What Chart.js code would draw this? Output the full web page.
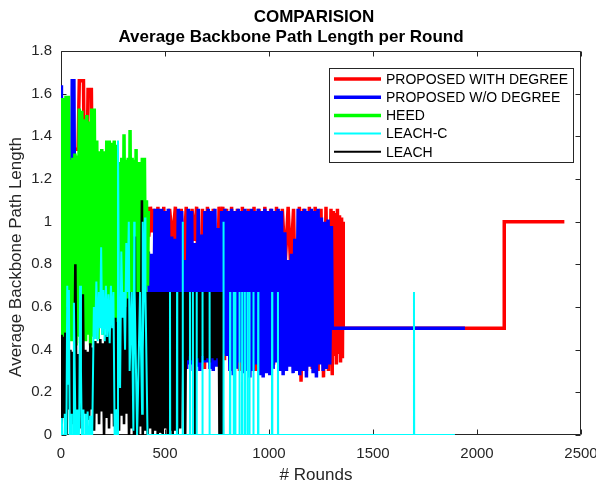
<!DOCTYPE html>
<html>
<head>
<meta charset="utf-8">
<script src="https://cdn.jsdelivr.net/npm/chart.js@4.4.1/dist/chart.umd.min.js"></script>
<style>
  html, body { margin: 0; padding: 0; background: #fff; }
  #wrap { width: 596px; height: 483px; }
</style>
</head>
<body>
<div id="wrap"><canvas id="roundChart" width="596" height="483"></canvas></div>
<script>
// titles / labels
const titleLines = ['COMPARISION', 'Average Backbone Path Length per Round'];
const xTitle = '# Rounds';
const yTitle = 'Average Backbone Path Length';
const seriesNames = ['PROPOSED WITH DEGREE', 'PROPOSED W/O DEGREE', 'HEED', 'LEACH-C', 'LEACH'];

// ticks
const roundTicks = [0, 500, 1000, 1500, 2000, 2500];
const roundTickLabels = ['0', '500', '1000', '1500', '2000', '2500'];
const lengthTicks = [0, 0.2, 0.4, 0.6, 0.8, 1, 1.2, 1.4, 1.6, 1.8];
const lengthTickLabels = ['0', '0.2', '0.4', '0.6', '0.8', '1', '1.2', '1.4', '1.6', '1.8'];

// [round, path length]
const redPts = [[0,0.95],[12,1.2],[24,0.85],[36,1.1],[48,0.9],[57,1.34],[82,1.34],[88,1.66],[108,1.66],[112,1.25],[122,1.0],[130,1.62],[146,1.62],[150,1.2],[164,0.9],[184,1.15],[204,0.85],[224,1.2],[244,0.9],[264,1.15],[284,0.8],[304,1.1],[324,0.9],[344,1.15],[364,0.85],[384,1.1],[404,0.9],
  [414,1.07],[422,0.93],[430,1.07],[438,0.95],[446,1.06],[454,0.88],[466,1.07],[480,0.36],[494,1.07],[508,0.4],[522,1.06],[536,0.91],[550,1.07],[564,0.35],[578,1.06],[590,0.81],[602,1.07],[616,0.36],[630,1.06],[640,0.91],[652,1.07],[666,0.35],[680,1.06],[690,0.31],[704,1.07],[718,0.35],[732,1.06],[746,0.33],[760,1.07],[770,0.97],[778,1.07],[786,0.35],[796,1.06],[806,0.37],[820,1.07],[834,0.33],[848,1.06],[858,0.3],[872,1.07],[886,0.31],[900,1.06],[914,0.32],[928,1.07],[938,0.3],[952,1.06],[966,0.3],[980,1.07],[994,0.31],[1008,1.06],[1022,0.33],[1036,1.07],[1050,0.3],[1064,1.06],[1078,0.8],[1092,1.07],[1104,0.79],[1118,1.06],[1132,0.3],[1146,1.07],[1154,0.25],[1166,1.06],[1180,0.3],[1194,1.07],[1208,0.31],[1222,1.07],[1236,0.3],[1250,1.06],[1262,0.27],[1274,1.07],[1286,0.3],[1298,1.06],
  [1304,0.28],[1309,1.05],[1314,0.37],[1319,1.04],[1324,0.33],[1329,1.06],[1334,0.38],[1339,1.03],[1344,0.34],[1349,1.02],[1353,0.36],[1356,1.0],[1357,0.5],[2130,0.5],[2131,1.0],[2420,1.0]];

const bluePts = [[0,1.64],[2,1.05],[8,0.9],[16,1.2],[26,0.85],[38,1.1],[50,0.9],[54,1.66],[62,1.66],[64,1.26],[72,0.95],[86,1.2],[100,0.8],[116,1.1],[132,0.85],[150,1.15],[170,0.9],[190,1.2],[210,0.85],[230,1.1],[250,0.9],[270,1.15],[290,0.8],[310,1.1],[330,0.9],[350,1.15],[370,0.85],[390,1.1],[404,0.9],
  [412,0.7],[420,0.86],[428,0.4],[436,0.85],[444,0.35],[452,1.06],[460,0.38],[468,1.06],[476,0.32],[484,1.06],[492,0.36],[500,1.05],[508,0.3],[516,1.06],[524,0.4],[532,0.93],[540,0.35],[548,0.92],[556,0.33],[564,1.06],[572,0.3],[580,1.05],[588,0.35],[596,0.82],[604,0.31],[612,1.06],[620,0.33],[628,1.05],[636,0.3],[644,0.9],[652,0.32],[660,1.06],[668,0.3],[676,0.94],[684,0.34],[692,1.05],[700,0.34],[708,1.06],[716,0.31],[724,1.05],[732,0.3],[740,1.06],[748,0.32],[756,0.97],[764,0.3],[772,1.05],[780,0.38],
  [788,1.06],[796,0.37],[804,1.05],[812,0.3],[820,1.06],[828,0.28],[836,1.05],[844,0.31],[852,1.06],[860,0.34],[868,1.05],[876,0.29],[884,1.06],[892,0.3],[900,1.05],[908,0.27],[916,1.06],[924,0.3],[932,1.05],[940,0.33],[948,1.06],[956,0.28],[964,1.05],[972,0.27],[980,1.06],[988,0.29],[996,1.05],[1004,0.28],[1012,1.06],[1020,0.31],[1028,1.05],[1036,0.34],[1044,1.06],[1052,0.3],[1060,1.05],[1068,0.28],[1076,0.95],[1084,0.3],[1092,0.82],[1100,0.32],[1108,0.85],[1116,0.29],[1124,0.92],[1132,0.3],[1140,1.06],[1148,0.28],[1156,1.05],[1164,0.3],[1172,1.06],[1180,0.27],[1188,1.05],[1196,0.32],[1204,1.06],[1212,0.29],[1220,1.05],[1228,0.27],[1236,1.06],[1244,0.33],[1252,1.02],[1260,0.3],[1268,1.0],[1276,0.31],[1284,1.01],[1292,0.33],[1300,0.98],[1304,0.5],[1942,0.5]];

const greenPts = [[0,0.4],[3,1.58],[9,0.45],[14,1.58],[19,0.48],[24,1.59],[30,0.42],[36,1.59],[42,0.47],[47,1.29],[52,0.44],[57,1.30],[62,0.48],[67,1.32],[72,0.42],[77,1.31],[82,0.46],[88,1.53],[94,0.43],[100,1.52],[106,0.48],[112,1.48],[118,0.44],[124,1.50],[130,0.47],[136,1.47],[142,0.42],[148,1.53],[154,0.46],[160,1.53],[166,0.5],[172,1.38],[178,0.45],[184,1.33],[190,0.52],[196,1.34],[202,0.47],[208,1.33],[214,0.5],[220,1.38],[226,0.48],[232,1.38],[238,0.53],[244,1.37],[250,0.47],[256,1.38],[262,0.52],[268,1.36],[274,0.55],[280,1.28],[286,0.5],[292,1.30],[298,0.55],[303,1.41],[308,0.57],[313,1.29],[318,0.55],[323,1.30],[328,0.6],[332,1.43],[337,0.62],[342,1.30],[347,0.6],[352,1.29],[357,0.62],[361,1.34],[366,0.6],[371,1.28],[376,0.62],[381,1.28],[386,0.6],[391,1.30],[396,0.62],[401,1.30],[406,0.65],[411,1.10],[416,0.7],[420,1.05]];

const cyanPts = [[0,0.0],[4,0.08],[6,0.0],[16,0.0],[18,0.1],[20,0.0],[26,0.0],[30,0.7],[34,0.24],[38,0.68],[42,0.0],[48,0.0],[50,0.1],[52,0.0],[58,0.0],[62,0.62],[66,0.3],[70,0.0],[76,0.0],[78,0.12],[80,0.0],[86,0.0],[88,0.1],[92,0.7],[96,0.3],[100,0.0],[104,0.0],[106,0.12],[108,0.0],[116,0.0],[118,0.1],[120,0.0],[126,0.0],[128,0.11],[130,0.0],[138,0.0],[140,0.09],[142,0.0],[150,0.0],[158,0.6],[164,0.45],[170,0.72],[176,0.44],[182,0.67],[188,0.5],[193,0.88],[198,0.47],[204,0.68],[210,0.44],[216,0.7],[222,0.46],[228,0.66],[234,0.43],[240,0.7],[246,0.5],[252,0.67],[258,0.0],[262,0.0],[264,0.12],[266,0.0],[270,0.0],[274,1.38],[278,0.67],[284,0.22],[290,0.86],[296,0.55],[302,0.67],[308,0.4],[314,0.9],[320,0.67],[326,1.0],[330,0.3],[340,0.67],[348,0.02],[352,1.0],[354,0.67],[366,0.0],[380,0.67],[390,0.1],[392,1.0],[394,0.4],[404,1.02],[406,0.67],[416,0.0],
  [523,0],[524,0.67],[525,0],[557,0],[558,0.67],[559,0],[584,0],[585,1.0],[586,0],[619,0],[620,0.67],[621,0],[633,0],[634,0.67],[635,0],[651,0],[652,0.67],[653,0],[679,0],[680,0.67],[681,0],[713,0],[714,0.67],[715,0],[780,0],[781,1.0],[782,0],[812,0],[813,0.67],[814,0],[829,0],[830,0.67],[831,0],[837,0],[838,0.67],[839,0],[857,0],[858,0.67],[859,0],[870,0],[871,0.67],[872,0],[883,0],[884,0.67],[885,0],[895,0],[896,0.67],[897,0],[905,0],[906,0.67],[907,0],[924,0],[925,0.67],[926,0],[947,0],[948,0.67],[949,0],[1014,0],[1015,0.67],[1016,0],[1042,0],[1043,0.67],[1044,0],[1696,0],[1697,0.67],[1698,0],[1894,0]];

const blackPts = [[0,0.47],[3,0.02],[9,0.46],[15,0.08],[21,0.48],[27,0.0],[33,0.6],[39,0.12],[45,0.4],[51,0.05],[57,0.39],[63,0.1],[69,0.8],[75,0.0],[81,0.38],[87,0.09],[93,0.42],[99,0.03],[105,0.66],[111,0.1],[117,0.4],[123,0.0],[129,0.39],[135,0.07],[141,0.43],[147,0.12],[153,0.41],[159,0.02],[165,0.44],[171,0.1],[177,0.43],[183,0.05],[189,0.45],[195,0.11],[201,0.43],[207,0.0],[213,0.47],[219,0.08],[225,0.5],[231,0.03],[237,0.52],[243,0.1],[249,0.51],[255,0.04],[261,0.55],[267,0.12],[273,0.53],[279,0.02],[285,0.58],[291,0.09],[297,0.62],[303,0.05],[309,0.6],[315,0.1],[321,0.64],[327,0.0],
  [333,0.67],[339,0.03],[345,0.67],[351,0.0],[355,0.93],[359,0.02],[365,0.67],[371,0.0],[377,0.67],[383,0.04],[389,1.1],[393,0.0],[399,0.67],[405,0.02],[411,0.67],[417,0.0],[423,0.67],[429,0.03],[435,0.67],[441,0.0],[447,0.67],[453,0.02],[459,0.67],[465,0.0],[471,0.67],[477,0.01],[483,0.67],[489,0.0],[495,0.67],[501,0.03],[507,0.67],[513,0.0],[519,0.67],[525,0.02],[531,0.67],[537,0.0],[543,0.67],[549,0.02],[555,0.67],[561,0.0],[567,0.67],[573,0.03],[579,0.67],
  [585,0.36],[591,0.67],[597,0.0],[602,0.67],[608,0.35],[614,0.67],[620,0.37],[626,0.67],[632,0.35],[638,0.67],[644,0.0],[650,0.67],[656,0.36],[662,0.67],[668,0.34],[674,0.67],[680,0.37],[686,0.67],[692,0.35],[698,0.67],[704,0.36],[710,0.67],[716,0.34],[722,0.67],[728,0.36],[734,0.67],[740,0.35],[746,0.67],[752,0.36],[758,0.67],[762,0.0],[766,0.67],[770,0.0],[774,0.67],[778,0.0],[780,0.0]];

const FONT = '"Liberation Sans", Arial, Helvetica, sans-serif';
const AXIS_COLOR = '#262626';

const toXY = pts => pts.map(p => ({ x: p[0], y: p[1] }));

function makeSet(label, pts, color, width, order) {
  return {
    label: label,
    data: toXY(pts),
    borderColor: color,
    backgroundColor: color,
    borderWidth: width,
    pointRadius: 0,
    tension: 0,
    fill: false,
    order: order
  };
}

// MATLAB style box with inward ticks, drawn under the lines (Layer = bottom)
const matlabFrame = {
  id: 'matlabFrame',
  beforeDatasetsDraw(chart) {
    const { ctx, chartArea: a, scales: { x, y } } = chart;
    const L = a.left + 0.5, R = a.right - 0.5, T = a.top + 0.5, B = a.bottom - 0.5;
    const tl = 5;
    ctx.save();
    ctx.strokeStyle = AXIS_COLOR;
    ctx.lineWidth = 1;
    ctx.beginPath();
    ctx.rect(L, T, R - L, B - T);
    roundTicks.forEach(v => {
      const px = Math.round(x.getPixelForValue(v)) + 0.5;
      ctx.moveTo(px, B); ctx.lineTo(px, B - tl);
      ctx.moveTo(px, T); ctx.lineTo(px, T + tl);
    });
    lengthTicks.forEach(v => {
      const py = Math.round(y.getPixelForValue(v)) + 0.5;
      ctx.moveTo(L, py); ctx.lineTo(L + tl, py);
      ctx.moveTo(R, py); ctx.lineTo(R - tl, py);
    });
    ctx.stroke();
    ctx.restore();
  },
  afterDraw(chart) {
    const { ctx, chartArea: a } = chart;
    const cx = (a.left + a.right) / 2;
    ctx.save();
    ctx.fillStyle = '#000';
    ctx.textAlign = 'center';
    ctx.textBaseline = 'alphabetic';
    ctx.font = 'bold 17px ' + FONT;
    ctx.fillText(titleLines[0], cx - 7, a.top - 29);
    ctx.fillText(titleLines[1], cx - 30, a.top - 9);

    ctx.fillStyle = AXIS_COLOR;
    ctx.font = '17px ' + FONT;
    ctx.fillText(xTitle, cx - 5, a.bottom + 45);
    ctx.translate(21, (a.top + a.bottom) / 2 + 14);
    ctx.rotate(-Math.PI / 2);
    ctx.fillText(yTitle, 0, 0);
    ctx.restore();

    // legend box
    const boxW = 244, boxH = 94, rowH = 18.2;
    const left = a.right - 8 - boxW, top = a.top + 17;
    ctx.save();
    ctx.fillStyle = '#fff';
    ctx.fillRect(left, top, boxW, boxH);
    ctx.strokeStyle = AXIS_COLOR;
    ctx.lineWidth = 1;
    ctx.strokeRect(left + 0.5, top + 0.5, boxW, boxH);
    ctx.font = '14px ' + FONT;
    ctx.textBaseline = 'middle';
    ctx.textAlign = 'left';
    chart.data.datasets.forEach((ds, i) => {
      const cy = top + 11 + i * rowH;
      ctx.strokeStyle = ds.borderColor;
      ctx.lineWidth = ds.borderWidth > 3 ? ds.borderWidth : 2;
      ctx.beginPath();
      ctx.moveTo(left + 5, cy);
      ctx.lineTo(left + 52, cy);
      ctx.stroke();
      ctx.fillStyle = '#000';
      ctx.fillText(ds.label, left + 57, cy + 1);
    });
    ctx.restore();
  }
};

const ctx = document.getElementById('roundChart').getContext('2d');
new Chart(ctx, {
  type: 'line',
  data: {
    datasets: [
      makeSet(seriesNames[0], redPts, '#ff0000', 3.5, 5),
      makeSet(seriesNames[1], bluePts, '#0000ff', 3.5, 4),
      makeSet(seriesNames[2], greenPts, '#00ff00', 3.5, 3),
      makeSet(seriesNames[3], cyanPts, '#00ffff', 2, 1),
      makeSet(seriesNames[4], blackPts, '#000000', 2.6, 2)
    ]
  },
  options: {
    responsive: false,
    animation: false,
    devicePixelRatio: 1,
    layout: { padding: { left: 0, right: 15, top: 51, bottom: 0 } },
    plugins: { legend: { display: false }, tooltip: { enabled: false }, title: { display: false } },
    scales: {
      x: {
        type: 'linear',
        min: 0,
        max: 2500,
        grid: { display: false, drawTicks: false },
        border: { display: false },
        ticks: {
          font: { family: FONT, size: 15 },
          color: AXIS_COLOR,
          padding: 10,
          maxRotation: 0,
          autoSkip: false,
          callback: (v, i) => roundTickLabels[i]
        },
        afterBuildTicks: s => { s.ticks = roundTicks.map(v => ({ value: v })); },
        afterFit: s => { s.height = 48; s.paddingLeft = 0; s.paddingRight = 0; }
      },
      y: {
        type: 'linear',
        min: 0,
        max: 1.8,
        grid: { display: false, drawTicks: false },
        border: { display: false },
        ticks: {
          font: { family: FONT, size: 15 },
          color: AXIS_COLOR,
          padding: 9,
          autoSkip: false,
          callback: (v, i) => lengthTickLabels[i]
        },
        afterBuildTicks: s => { s.ticks = lengthTicks.map(v => ({ value: v })); },
        afterFit: s => { s.width = 61; s.paddingTop = 0; s.paddingBottom = 0; }
      }
    }
  },
  plugins: [matlabFrame]
});
</script>
</body>
</html>
